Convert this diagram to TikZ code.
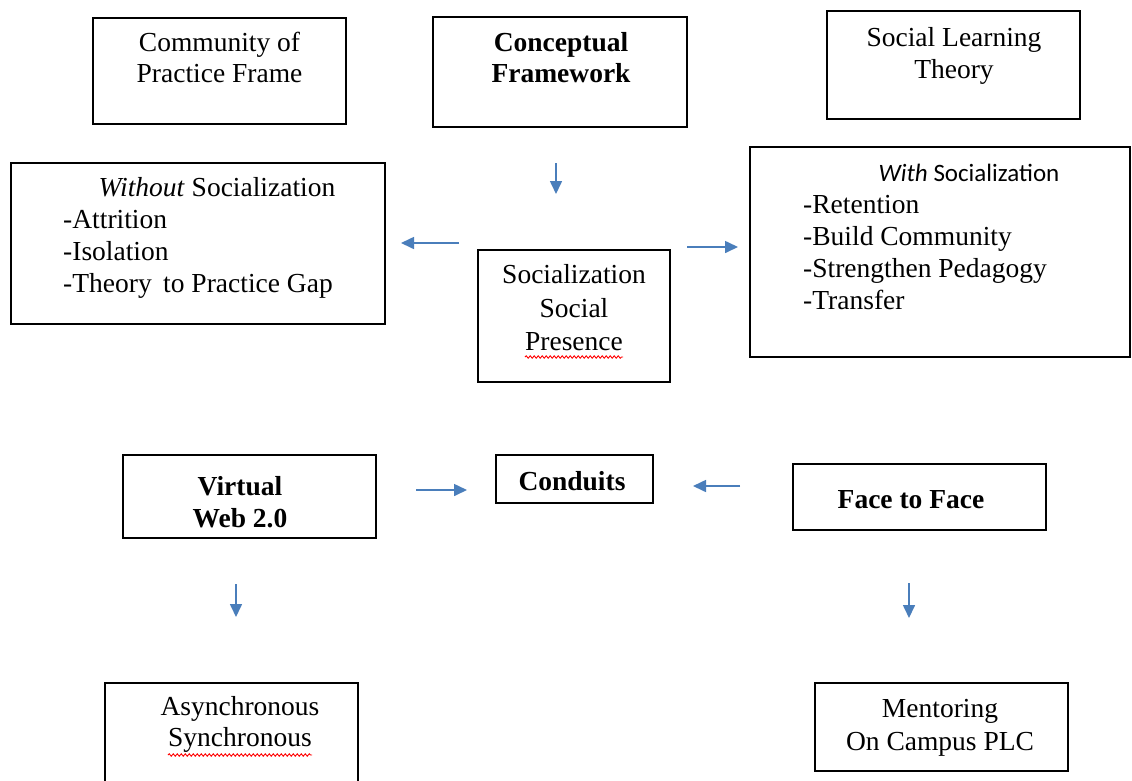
\documentclass[tikz,border=0pt]{standalone}
\usepackage{fontspec}
\setmainfont{Liberation Serif}
\newfontfamily\calfont{Carlito}
\usetikzlibrary{arrows.meta,decorations.pathmorphing}
\definecolor{arrowblue}{RGB}{74,126,187}
\tikzset{
 boxshape/.style={draw=black, line width=1.5pt, rectangle, inner sep=0pt},
 txt/.style={anchor=base, inner sep=0pt, font=\fontsize{27.5}{33}\selectfont},
 txtl/.style={txt, anchor=base west},
 txtb/.style={txt, font=\fontsize{27.5}{33}\selectfont\bfseries},
 flow/.style={draw=arrowblue, line width=1.6pt, -{Triangle[length=13pt,width=12pt]}},
 squiggle/.style={draw=red, line width=0.9pt, decorate, decoration={snake, amplitude=1.2pt, segment length=4pt}}
}
\begin{document}
\begin{tikzpicture}[x=1pt,y=-1pt]
\useasboundingbox (0,0) rectangle (1132,780);
\clip (0,0) rectangle (1132,780);
\fill[white] (0,0) rectangle (1132,780);

% boxes
\node[boxshape, minimum width=253pt, minimum height=106pt] (b1) at (219.5,71) {};
\node[boxshape, minimum width=254pt, minimum height=110pt] (b2) at (560,72) {};
\node[boxshape, minimum width=253pt, minimum height=108pt] (b3) at (953.5,65) {};
\node[boxshape, minimum width=374pt, minimum height=161pt] (b4) at (198,243.5) {};
\node[boxshape, minimum width=380pt, minimum height=210pt] (b5) at (940,252) {};
\node[boxshape, minimum width=192pt, minimum height=132pt] (b6) at (574,316) {};
\node[boxshape, minimum width=253pt, minimum height=83pt] (b7) at (249.5,496.5) {};
\node[boxshape, minimum width=157pt, minimum height=48pt] (b8) at (574.5,479) {};
\node[boxshape, minimum width=253pt, minimum height=66pt] (b9) at (919.5,497) {};
\node[boxshape, minimum width=253pt, minimum height=117pt] (b10) at (231.5,741.5) {};
\node[boxshape, minimum width=253pt, minimum height=88pt] (b11) at (941.5,727) {};

% texts
\node[txt] (t1a) at (219.5,51) {Community of};
\node[txt] (t1b) at (219.5,82) {Practice Frame};
\node[txtb] (t2a) at (561,51) {Conceptual};
\node[txtb] (t2b) at (561,82) {Framework};
\node[txt] (t3a) at (954,46) {Social Learning};
\node[txt] (t3b) at (954,78) {Theory};

\node[txt] (t4h) at (217,196) {\textit{Without} Socialization};
\node[txtl] (t4a) at (63,228) {-Attrition};
\node[txtl] (t4b) at (63,260) {-Isolation};
\node[txtl] (t4c) at (63,292) {-Theory\, to Practice Gap};

\node[txt, font=\calfont\fontsize{25}{30}\selectfont] (t5h) at (969,181) {\textit{With} Socialization};
\node[txtl] (t5a) at (803,213) {-Retention};
\node[txtl] (t5b) at (803,245) {-Build Community};
\node[txtl] (t5c) at (803,277) {-Strengthen Pedagogy};
\node[txtl] (t5d) at (803,309) {-Transfer};

\node[txt] (t6a) at (574,283) {Socialization};
\node[txt] (t6b) at (574,317) {Social};
\node[txt] (t6c) at (574,350) {Presence};

\node[txtb] (t7a) at (240,495) {Virtual};
\node[txtb] (t7b) at (240,527) {Web 2.0};
\node[txtb] (t8) at (572,490) {Conduits};
\node[txtb] (t9) at (911,508) {Face to Face};

\node[txt] (t10a) at (240,715) {Asynchronous};
\node[txt] (t10b) at (240,746) {Synchronous};
\node[txt] (t11a) at (940,717) {Mentoring};
\node[txt] (t11b) at (940,750) {On Campus PLC};

% spell-check squiggles
\draw[squiggle] ([yshift=-7pt]t6c.base west) -- ([yshift=-7pt]t6c.base east);
\draw[squiggle] ([yshift=-9pt]t10b.base west) -- ([yshift=-9pt]t10b.base east);

% arrows
\coordinate (a1s) at (556,163); \coordinate (a1e) at (556,194);
\coordinate (a2s) at (459,243); \coordinate (a2e) at (401,243);
\coordinate (a3s) at (687,247); \coordinate (a3e) at (738,247);
\coordinate (a4s) at (416,490); \coordinate (a4e) at (467,490);
\coordinate (a5s) at (740,486); \coordinate (a5e) at (693,486);
\coordinate (a6s) at (236,584); \coordinate (a6e) at (236,617);
\coordinate (a7s) at (909,583); \coordinate (a7e) at (909,618);
\draw[flow] (a1s) -- (a1e);
\draw[flow] (a2s) -- (a2e);
\draw[flow] (a3s) -- (a3e);
\draw[flow] (a4s) -- (a4e);
\draw[flow] (a5s) -- (a5e);
\draw[flow] (a6s) -- (a6e);
\draw[flow] (a7s) -- (a7e);
\end{tikzpicture}
\end{document}
